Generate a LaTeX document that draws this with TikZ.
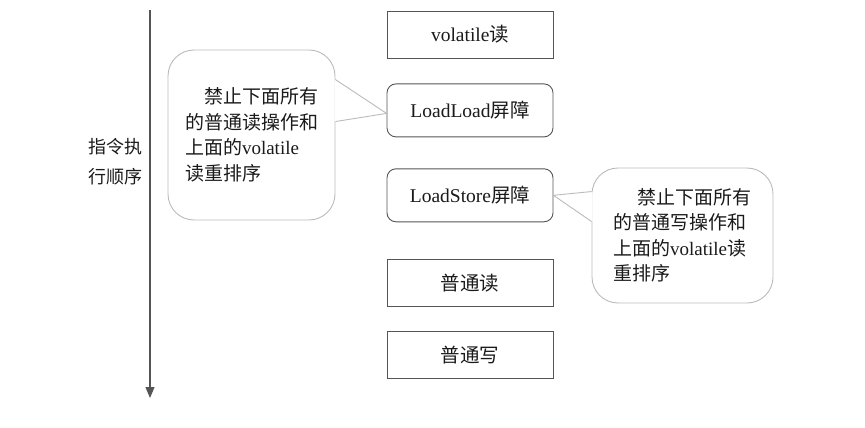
\documentclass[tikz,border=0pt]{standalone}
\usepackage{fontspec}
\setmainfont{Liberation Serif}
\newfontfamily\cjk{Noto Sans CJK SC}
\newcommand{\zh}[1]{{\cjk #1}}
\usepackage{tikz}
\usetikzlibrary{arrows.meta, positioning, calc}
\definecolor{colLine}  {HTML}{555555}
\definecolor{colBubble}{HTML}{BBBBBB}
\definecolor{colText}  {HTML}{1A1A1A}
\tikzset{
  box/.style={
    draw=colLine, line width=0.9pt,
    minimum width=166pt, minimum height=47pt,
    inner sep=0pt, text=colText,
    font=\fontsize{19.5}{22}\selectfont
  },
  barrier/.style={box, rounded corners=9pt, minimum height=53pt},
  bubble/.style={
    draw=colBubble, line width=0.9pt, rounded corners=26pt,
    align=left, inner sep=0pt, text=colText,
    font=\fontsize{19}{25.5}\selectfont
  },
  bubblearr/.style={draw=colBubble, line width=0.9pt},
  orderarr/.style={
    -{Triangle[length=11pt,width=9pt]},
    draw=colLine, line width=1.2pt
  }
}

\begin{document}
\begin{tikzpicture}[x=1pt, y=-1pt]
  \useasboundingbox (0,0) rectangle (865,428);
  % execution order
  \coordinate (top) at (150,10);
  \coordinate (bot) at (150,398);
  \draw[orderarr] (top) -- (bot);
  \node[text=colText, align=center, font=\cjk\fontsize{18}{30}\selectfont] (lbl) at (115,162) {指令执\\行顺序};
  % instruction sequence
  \node[box] (vr) at (470,34.5) {volatile\zh{读}};
  \node[barrier, below=25pt of vr] (ll) {LoadLoad\zh{屏障}};
  \node[barrier, below=31pt of ll] (ls) {LoadStore\zh{屏障}};
  \node[box, below=37pt of ls] (nr) {\zh{普通读}};
  \node[box, below=24pt of nr] (nw) {\zh{普通写}};
  % callouts
  \node[bubble, minimum width=167pt, minimum height=170pt] (cl) at (251.5,135)
    {\hspace*{1em}\zh{禁止下面所有}\\\zh{的普通读操作和}\\\zh{上面的}volatile\\\zh{读重排序}};
  \node[bubble, minimum width=181pt, minimum height=135pt] (cr) at (682.5,235.5)
    {\hspace*{1.3em}\zh{禁止下面所有}\\\zh{的普通写操作和}\\\zh{上面的}volatile\zh{读}\\\zh{重排序}};
  \fill[white] ($(cl.north east)+(-1,30)$) -- ($(ll.west)+(0,3)$) -- ($(cl.north east)+(-1,72)$) -- cycle;
  \draw[bubblearr] ($(cl.north east)+(0,30)$) -- ($(ll.west)+(0,3)$) -- ($(cl.north east)+(0,72)$);
  \fill[white] ($(cr.north west)+(1,24)$) -- (ls.east) -- ($(cr.north west)+(1,54)$) -- cycle;
  \draw[bubblearr] ($(cr.north west)+(0,24)$) -- (ls.east) -- ($(cr.north west)+(0,54)$);
\end{tikzpicture}
\end{document}
